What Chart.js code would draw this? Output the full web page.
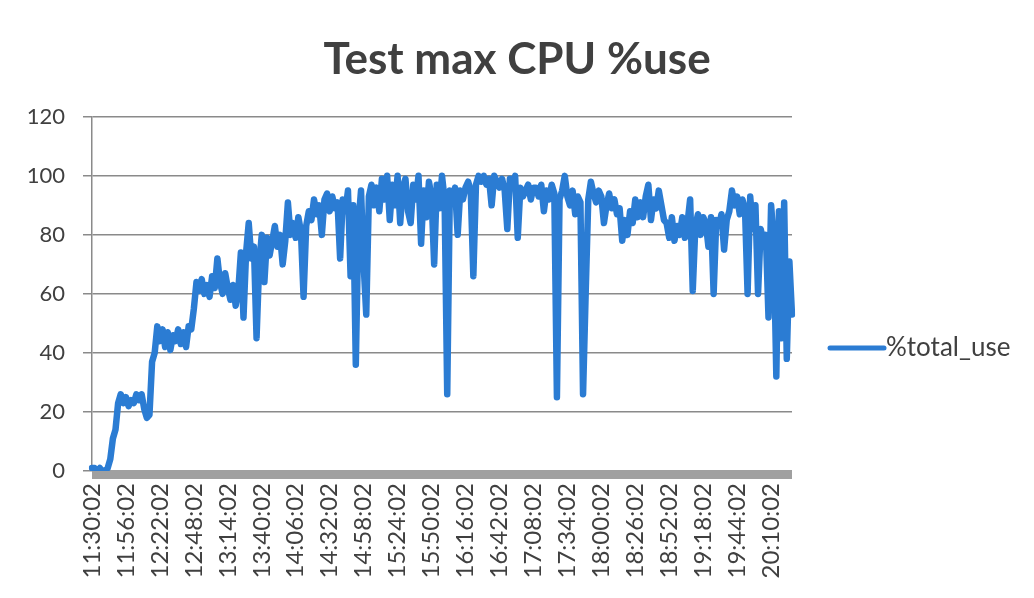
<!DOCTYPE html>
<html>
<head>
<meta charset="utf-8">
<script src="https://cdn.jsdelivr.net/npm/chart.js@4.4.1/dist/chart.umd.min.js"></script>
<style>
  html, body { margin: 0; padding: 0; background: #fff; }
  #wrap { width: 1034px; height: 598px; }
</style>
</head>
<body>
<div id="wrap"><canvas id="cpuChart" width="1034" height="598"></canvas></div>
<script>
// =================== DATA ===================
const chartTitle = 'Test max CPU %use';
const seriesName = '%total_use';
const startTime = '11:30:02';
const stepMinutes = 2;
const labelEvery = 13; // a tick label every 26 minutes
const yTicks = [0, 20, 40, 60, 80, 100, 120];

// max CPU %, one sample every 2 minutes
const totalUse = [
  1, 1, 0, 1, 0, 0, 1, 4, 11, 14,
  23, 26, 23, 25, 22, 24, 23, 26, 24, 26,
  21, 18, 19, 37, 40, 49, 44, 48, 42, 47,
  41, 46, 44, 48, 43, 47, 42, 49, 48, 55,
  64, 61, 65, 60, 63, 59, 66, 62, 72, 64,
  60, 67, 62, 58, 63, 56, 61, 74, 52, 74,
  84, 72, 76, 45, 70, 80, 64, 79, 73, 78,
  83, 76, 80, 70, 78, 91, 80, 84, 79, 86,
  81, 59, 83, 88, 85, 92, 87, 90, 80, 92,
  94, 88, 93, 89, 91, 72, 92, 88, 95, 66,
  90, 36, 84, 95, 70, 53, 93, 97, 90, 96,
  88, 99, 92, 100, 85, 97, 90, 100, 84, 96,
  99, 88, 84, 97, 92, 100, 77, 95, 86, 98,
  93, 70, 97, 89, 100, 92, 26, 95, 91, 96,
  80, 95, 92, 96, 98, 95, 66, 97, 100, 98,
  100, 97, 99, 90, 100, 98, 96, 99, 95, 82,
  99, 97, 100, 79, 96, 93, 95, 97, 92, 96,
  96, 93, 97, 88, 95, 92, 97, 94, 25, 92,
  95, 100, 93, 90, 95, 87, 93, 91, 26, 60,
  92, 98, 94, 91, 95, 93, 84, 90, 94, 89,
  92, 87, 89, 78, 85, 80, 88, 84, 92, 86,
  91, 86, 93, 97, 85, 92, 89, 95, 90, 85,
  84, 79, 86, 78, 83, 80, 86, 79, 84, 92,
  61, 83, 87, 80, 86, 84, 76, 86, 60, 85,
  83, 87, 75, 85, 88, 95, 90, 93, 87, 92,
  89, 60, 93, 82, 90, 60, 82, 78, 80, 52,
  90, 78, 32, 88, 45, 91, 38, 71, 53
];

// time stamps for the category axis
function buildTimes(start, step, count) {
  const [h, m, s] = start.split(':').map(Number);
  const out = [];
  for (let i = 0; i < count; i++) {
    const t = h * 60 + m + i * step;
    const hh = Math.floor(t / 60) % 24, mm = t % 60;
    out.push(`${hh}:${String(mm).padStart(2, '0')}:${String(s).padStart(2, '0')}`);
  }
  return out;
}
const times = buildTimes(startTime, stepMinutes, totalUse.length);

// =================== PLUGINS ===================
// grey floor strip under the plot, like the Excel original
const floorBar = {
  id: 'floorBar',
  beforeDatasetsDraw(chart) {
    const { ctx, chartArea } = chart;
    ctx.save();
    ctx.fillStyle = '#a0a0a0';
    ctx.fillRect(chartArea.left, chartArea.bottom - 1, chartArea.right - chartArea.left, 9);
    ctx.restore();
  }
};

// legend drawn as a short thick line + label, right of the plot
const lineLegend = {
  id: 'lineLegend',
  afterDraw(chart) {
    const { ctx, chartArea } = chart;
    const ds = chart.data.datasets[0];
    const x0 = chartArea.right + 38;
    const y = 348;
    ctx.save();
    ctx.strokeStyle = ds.borderColor;
    ctx.lineWidth = 5;
    ctx.lineCap = 'round';
    ctx.beginPath();
    ctx.moveTo(x0, y);
    ctx.lineTo(x0 + 54, y);
    ctx.stroke();
    ctx.fillStyle = '#404040';
    ctx.font = '26px Lato';
    ctx.textBaseline = 'middle';
    ctx.fillText(ds.label, x0 + 56, y);
    ctx.restore();
  }
};

// =================== CHART ===================
const ctx = document.getElementById('cpuChart');
new Chart(ctx, {
  type: 'line',
  data: {
    labels: times,
    datasets: [{
      label: seriesName,
      data: totalUse,
      borderColor: '#2b7cd3',
      backgroundColor: '#2b7cd3',
      borderWidth: 6.5,
      borderJoinStyle: 'round',
      borderCapStyle: 'round',
      pointRadius: 0,
      tension: 0,
      fill: false
    }]
  },
  options: {
    responsive: false,
    animation: false,
    devicePixelRatio: 1,
    layout: { padding: 0 },
    plugins: {
      legend: { display: false },
      tooltip: { enabled: false },
      title: {
        display: true,
        text: chartTitle,
        color: '#404040',
        font: { family: 'Lato', size: 44, weight: 'bold', lineHeight: 1.2 },
        padding: { top: 33, bottom: 31 }
      }
    },
    scales: {
      x: {
        type: 'category',
        offset: false,
        grid: { display: false, drawTicks: false },
        border: { display: false },
        ticks: {
          autoSkip: false,
          maxRotation: 90,
          minRotation: 90,
          padding: 12,
          color: '#404040',
          font: { family: 'Lato', size: 24 },
          callback: function (val, i) {
            return i % labelEvery === 0 ? this.getLabelForValue(val) : '';
          }
        },
        afterFit: s => { s.height = 127; }
      },
      y: {
        min: yTicks[0],
        max: yTicks[yTicks.length - 1],
        afterBuildTicks: s => { s.ticks = yTicks.map(v => ({ value: v })); },
        grid: { color: '#8a8a8a', lineWidth: 1.5, tickLength: 9 },
        border: { display: true, color: '#8a8a8a', width: 1.5 },
        ticks: {
          padding: 18,
          color: '#404040',
          font: { family: 'Lato', size: 22 }
        },
        afterFit: s => { s.width = 92; }
      },
      // empty axis on the right that keeps room for the legend
      legendSpace: {
        type: 'linear',
        position: 'right',
        grid: { display: false, drawTicks: false },
        border: { display: false },
        ticks: { display: false },
        afterFit: s => { s.width = 242; }
      }
    }
  },
  plugins: [floorBar, lineLegend]
});
</script>
</body>
</html>
